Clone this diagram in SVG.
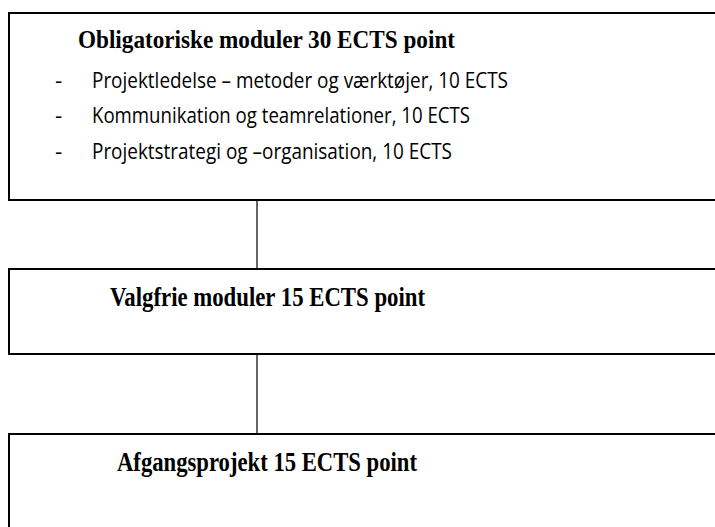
<svg xmlns="http://www.w3.org/2000/svg" width="715" height="527" viewBox="0 0 715 527">
<style>
.box{fill:#fff;stroke:#000;stroke-width:2}
.conn{stroke:#000;stroke-width:1.2;fill:none}
.h{font-family:"Liberation Serif","Times New Roman",serif;font-weight:bold;fill:#000}
.b{font-family:"Open Sans","Liberation Sans",sans-serif;font-size:22.5px;fill:#000}
</style>
<rect width="715" height="527" fill="#fff"/>
<g id="connectors">
<line class="conn" x1="257" y1="200" x2="257" y2="269"/>
<line class="conn" x1="257" y1="354" x2="257" y2="434"/>
</g>
<g id="obligatoriske">
<rect class="box" x="9" y="13" width="720" height="187"/>
<text class="h" x="78" y="48" font-size="24.5" textLength="377" lengthAdjust="spacingAndGlyphs">Obligatoriske moduler 30 ECTS point</text>
<text class="b" x="55" y="88">-</text>
<text class="b" x="92" y="88" textLength="416" lengthAdjust="spacingAndGlyphs">Projektledelse – metoder og værktøjer, 10 ECTS</text>
<text class="b" x="55" y="123">-</text>
<text class="b" x="92" y="123" textLength="378" lengthAdjust="spacingAndGlyphs">Kommunikation og teamrelationer, 10 ECTS</text>
<text class="b" x="55" y="159">-</text>
<text class="b" x="92" y="159" textLength="360" lengthAdjust="spacingAndGlyphs">Projektstrategi og –organisation, 10 ECTS</text>
</g>
<g id="valgfrie">
<rect class="box" x="9" y="269" width="720" height="85"/>
<text class="h" x="110" y="306" font-size="27" textLength="315" lengthAdjust="spacingAndGlyphs">Valgfrie moduler 15 ECTS point</text>
</g>
<g id="afgangsprojekt">
<rect class="box" x="9" y="434" width="720" height="110"/>
<text class="h" x="117" y="471" font-size="27" textLength="300" lengthAdjust="spacingAndGlyphs">Afgangsprojekt 15 ECTS point</text>
</g>
</svg>
